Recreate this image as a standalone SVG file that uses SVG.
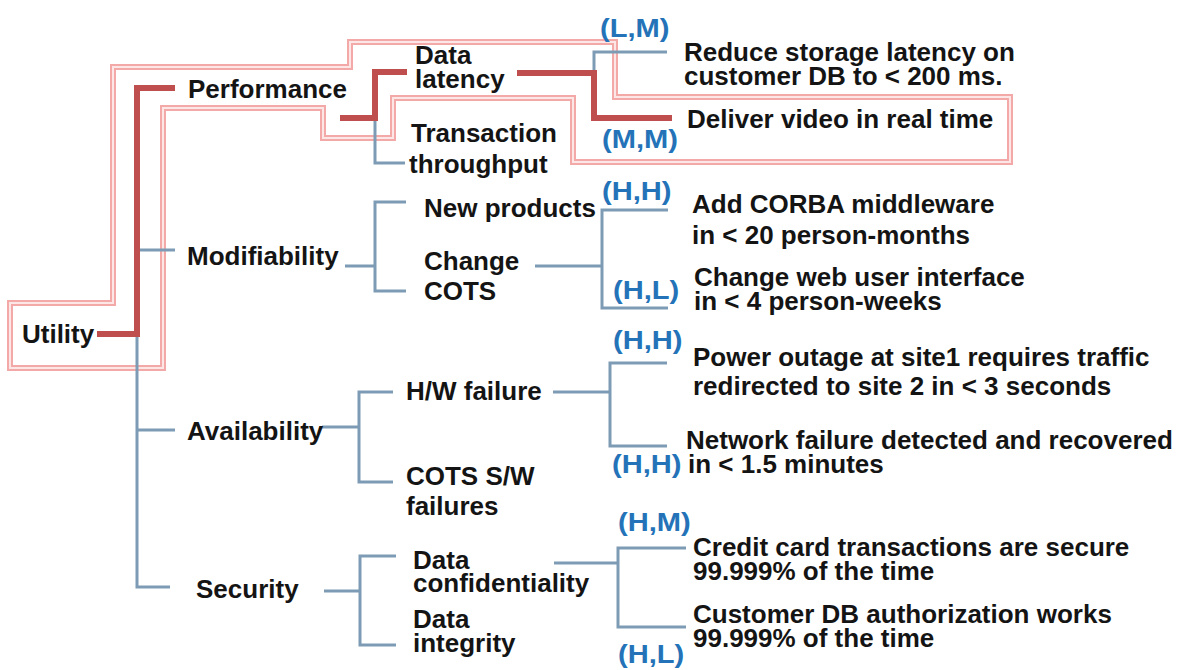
<svg xmlns="http://www.w3.org/2000/svg" width="1187" height="670" viewBox="0 0 1187 670">
<style>
.t{font-family:"Liberation Sans",Arial,sans-serif;font-weight:bold;font-size:25px;fill:#141414}
.q{font-family:"Liberation Sans",Arial,sans-serif;font-weight:bold;font-size:26px;fill:#2473b8}
.ln{fill:none;stroke:#7d9bb4;stroke-width:3}
.rd{fill:none;stroke:#bf4f4f;stroke-width:6}
.pk{fill:none;stroke:#f4a9a9;stroke-width:6}
.pk2{fill:none;stroke:#fde6e6;stroke-width:2}
</style>
<rect width="1187" height="670" fill="#ffffff"/>
<g id="highlight">
<path class="pk" d="M10,303 H113 V67 H350 V42 H615 V97 H1010 V162 H573 V98 H393 V138 H323 V108 H163 V368 H10 Z"/>
<path class="pk2" d="M10,303 H113 V67 H350 V42 H615 V97 H1010 V162 H573 V98 H393 V138 H323 V108 H163 V368 H10 Z"/>
</g>
<g id="connectors">
<path class="ln" d="M137,88 V587 H170"/>
<path class="ln" d="M137,250 H175"/>
<path class="ln" d="M137,430 H175"/>
<path class="ln" d="M375,118 V163 H405"/>
<path class="ln" d="M594,73 V52 H667"/>
<path class="ln" d="M345,266 H375"/>
<path class="ln" d="M406,202 H375 V291 H406"/>
<path class="ln" d="M535,266 H602"/>
<path class="ln" d="M668,210 H602 V308 H668"/>
<path class="ln" d="M322,427 H359"/>
<path class="ln" d="M393,392 H359 V482 H393"/>
<path class="ln" d="M553,392 H610"/>
<path class="ln" d="M667,363 H610 V446 H667"/>
<path class="ln" d="M324,591 H360"/>
<path class="ln" d="M396,556 H360 V645 H396"/>
<path class="ln" d="M554,563 H618"/>
<path class="ln" d="M686,548 H618 V627 H686"/>
<path class="rd" d="M97,334 H137 V88 H175"/>
<path class="rd" d="M340,118 H375 V72 H407"/>
<path class="rd" d="M517,73 H594 V118 H672"/>
</g>
<g id="utility"><text class="t" transform="translate(22,343) scale(1.04,1)">Utility</text></g>
<g id="performance"><text class="t" transform="translate(188,98) scale(1.04,1)">Performance</text></g>
<g id="modifiability"><text class="t" transform="translate(187,265) scale(1.04,1)">Modifiability</text></g>
<g id="availability"><text class="t" transform="translate(187,440) scale(1.04,1)">Availability</text></g>
<g id="security"><text class="t" transform="translate(196,598) scale(1.04,1)">Security</text></g>
<g id="data-latency"><text class="t" transform="translate(415,64) scale(1.04,1)">Data</text><text class="t" transform="translate(415,88) scale(1.04,1)">latency</text></g>
<g id="transaction-throughput"><text class="t" transform="translate(411,142) scale(1.04,1)">Transaction</text><text class="t" transform="translate(409,173) scale(1.04,1)">throughput</text></g>
<g id="new-products"><text class="t" transform="translate(424,217) scale(1.04,1)">New products</text></g>
<g id="change-cots"><text class="t" transform="translate(424,270) scale(1.04,1)">Change</text><text class="t" transform="translate(424,300) scale(1.04,1)">COTS</text></g>
<g id="hw-failure"><text class="t" transform="translate(406,400) scale(1.04,1)">H/W failure</text></g>
<g id="cots-sw-failures"><text class="t" transform="translate(406,485) scale(1.04,1)">COTS S/W</text><text class="t" transform="translate(406,515) scale(1.04,1)">failures</text></g>
<g id="data-confidentiality"><text class="t" transform="translate(413,569) scale(1.04,1)">Data</text><text class="t" transform="translate(413,592) scale(1.04,1)">confidentiality</text></g>
<g id="data-integrity"><text class="t" transform="translate(413,628) scale(1.04,1)">Data</text><text class="t" transform="translate(413,652) scale(1.04,1)">integrity</text></g>
<g id="leaf-storage"><text class="q" transform="translate(600,37) scale(1.12,1)">(L,M)</text><text class="t" transform="translate(684,61) scale(1.04,1)">Reduce storage latency on</text><text class="t" transform="translate(684,85) scale(1.04,1)">customer DB to &lt; 200 ms.</text></g>
<g id="leaf-video"><text class="t" transform="translate(687,128) scale(1.04,1)">Deliver video in real time</text><text class="q" transform="translate(602,148) scale(1.12,1)">(M,M)</text></g>
<g id="leaf-corba"><text class="q" transform="translate(602,200) scale(1.12,1)">(H,H)</text><text class="t" transform="translate(692,213) scale(1.04,1)">Add CORBA middleware</text><text class="t" transform="translate(692,244) scale(1.04,1)">in &lt; 20 person-months</text></g>
<g id="leaf-webui"><text class="t" transform="translate(694,286) scale(1.04,1)">Change web user interface</text><text class="q" transform="translate(613,299) scale(1.12,1)">(H,L)</text><text class="t" transform="translate(694,310) scale(1.04,1)">in &lt; 4 person-weeks</text></g>
<g id="leaf-power"><text class="q" transform="translate(613,349) scale(1.12,1)">(H,H)</text><text class="t" transform="translate(693,366) scale(1.04,1)">Power outage at site1 requires traffic</text><text class="t" transform="translate(693,395) scale(1.04,1)">redirected to site 2 in &lt; 3 seconds</text></g>
<g id="leaf-network"><text class="t" transform="translate(686,449) scale(1.04,1)">Network failure detected and recovered</text><text class="q" transform="translate(612,473) scale(1.12,1)">(H,H)</text><text class="t" transform="translate(688,473) scale(1.04,1)">in &lt; 1.5 minutes</text></g>
<g id="leaf-credit"><text class="q" transform="translate(618,531) scale(1.12,1)">(H,M)</text><text class="t" transform="translate(693,556) scale(1.04,1)">Credit card transactions are secure</text><text class="t" transform="translate(693,580) scale(1.04,1)">99.999% of the time</text></g>
<g id="leaf-auth"><text class="t" transform="translate(693,623) scale(1.04,1)">Customer DB authorization works</text><text class="t" transform="translate(693,647) scale(1.04,1)">99.999% of the time</text><text class="q" transform="translate(618,663) scale(1.12,1)">(H,L)</text></g>
</svg>
